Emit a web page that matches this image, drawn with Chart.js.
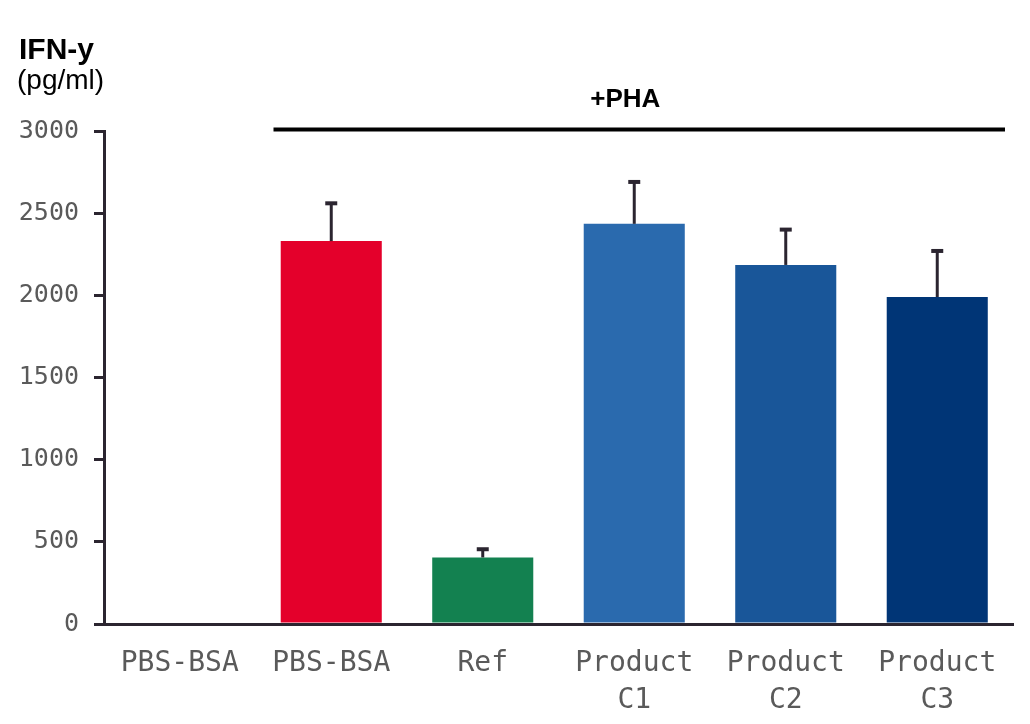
<!DOCTYPE html>
<html>
<head>
<meta charset="utf-8">
<style>
  html, body { margin: 0; padding: 0; background: #fff; }
  #wrap { width: 1030px; height: 724px; }
</style>
<script src="https://cdn.jsdelivr.net/npm/chart.js@4.4.1/dist/chart.umd.min.js"></script>
</head>
<body>
<div id="wrap"><canvas id="myChart" width="1030" height="724"></canvas></div>
<script>
const categories = [['PBS-BSA'], ['PBS-BSA'], ['Ref'], ['Product', 'C1'], ['Product', 'C2'], ['Product', 'C3']];
const ifnValues = [0, 2330, 405, 2435, 2185, 1990];
const ifnErrors = [0, 230, 50, 255, 215, 280];
const barColors = ['#e4002b', '#e4002b', '#138150', '#2a6aae', '#195699', '#003576'];
const yTicks = [0, 500, 1000, 1500, 2000, 2500, 3000];

const axisColor = '#2b2530';
const labelColor = '#5a5a5a';
const monoFont = '"DejaVu Sans Mono", monospace';
const sansFont = '"Liberation Sans", Arial, sans-serif';

// error bars, titles and the +PHA bracket
const extrasPlugin = {
    id: 'extras',
    beforeDraw(chart) {
        const c = chart.ctx;
        c.save();
        c.fillStyle = '#fff';
        c.fillRect(0, 0, chart.width, chart.height);
        c.restore();
    },
    afterDatasetsDraw(chart) {
        const c = chart.ctx;
        const y = chart.scales.y;
        const meta = chart.getDatasetMeta(0);
        c.save();
        c.strokeStyle = axisColor;
        meta.data.forEach((bar, i) => {
            if (!ifnErrors[i]) return;
            const top = y.getPixelForValue(ifnValues[i] + ifnErrors[i]);
            c.lineWidth = 3;
            c.beginPath();
            c.moveTo(bar.x, bar.y);
            c.lineTo(bar.x, top);
            c.stroke();
            c.lineWidth = 4;
            c.beginPath();
            c.moveTo(bar.x - 6, top);
            c.lineTo(bar.x + 6, top);
            c.stroke();
        });
        c.restore();
    },
    afterDraw(chart) {
        const c = chart.ctx;
        const x = chart.scales.x;
        const area = chart.chartArea;
        c.save();
        c.fillStyle = '#000';
        c.textAlign = 'left';
        c.textBaseline = 'alphabetic';
        c.font = 'bold 30px ' + sansFont;
        c.fillText('IFN-y', 19, 59);
        c.font = '28px ' + sansFont;
        c.fillText('(pg/ml)', 17, 89);

        // bracket over the PHA-treated groups
        const x0 = x.getPixelForValue(1) - x.width / 12 + 18;
        const x1 = area.right - 8;
        c.strokeStyle = '#000';
        c.lineWidth = 4;
        c.beginPath();
        c.moveTo(x0, 129.5);
        c.lineTo(x1, 129.5);
        c.stroke();
        c.font = 'bold 26px ' + sansFont;
        c.textAlign = 'center';
        c.fillText('+PHA', x.getPixelForValue(3) - 9, 107);
        c.restore();
    }
};

const ctx = document.getElementById('myChart').getContext('2d');
const myChart = new Chart(ctx, {
    type: 'bar',
    data: {
        labels: categories,
        datasets: [{
            data: ifnValues,
            backgroundColor: barColors,
            borderWidth: 0,
            barPercentage: 0.667,
            categoryPercentage: 1
        }]
    },
    options: {
        responsive: false,
        animation: false,
        layout: { padding: { top: 131, right: 17, left: 0, bottom: 0 } },
        plugins: {
            legend: { display: false },
            tooltip: { enabled: false }
        },
        scales: {
            x: {
                afterFit: s => { s.height = 100; },
                grid: { display: false, drawTicks: false },
                border: { display: true, color: axisColor, width: 3 },
                ticks: {
                    autoSkip: false,
                    maxRotation: 0,
                    padding: 22,
                    color: labelColor,
                    font: { family: monoFont, size: 28, lineHeight: 1.3 }
                }
            },
            y: {
                min: 0,
                max: 3000,
                afterFit: s => { s.width = 104; },
                afterBuildTicks: s => { s.ticks = yTicks.map(v => ({ value: v })); },
                grid: { drawOnChartArea: false, drawTicks: true, tickLength: 10, color: axisColor, lineWidth: 3 },
                border: { display: true, color: axisColor, width: 3 },
                ticks: {
                    padding: 15,
                    color: labelColor,
                    font: { family: monoFont, size: 25 },
                    callback: v => String(v)
                }
            }
        }
    },
    plugins: [extrasPlugin]
});
</script>
</body>
</html>
